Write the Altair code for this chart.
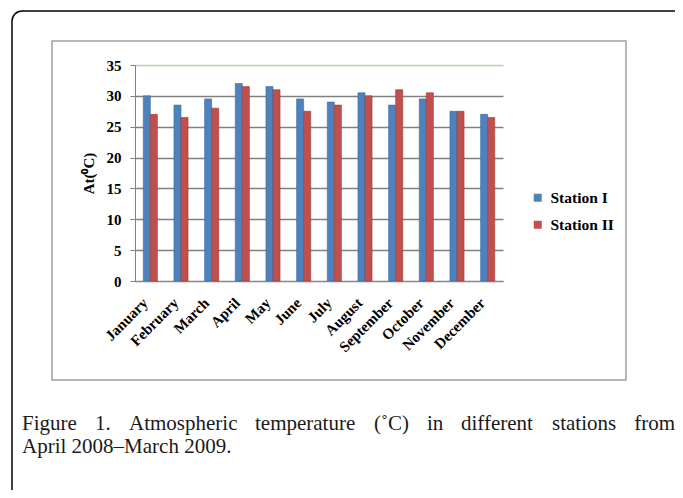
import altair as alt
import pandas as pd

months = ["January", "February", "March", "April", "May", "June", "July",
          "August", "September", "October", "November", "December"]
station_1 = [30, 28.5, 29.5, 32, 31.5, 29.5, 29, 30.5, 28.5, 29.5, 27.5, 27]
station_2 = [27, 26.5, 28, 31.5, 31, 27.5, 28.5, 30, 31, 30.5, 27.5, 26.5]
stations = ["Station I", "Station II"]
colors = ["#4F81BD", "#C0504D"]
y_ticks = [0, 5, 10, 15, 20, 25, 30, 35]
y_title = "At(\u2070C)"
caption_line1 = ["Figure", "1.", "Atmospheric", "temperature", "(\u02daC)", "in",
                 "different", "stations", "from"]
caption_line2 = "April 2008\u2013March 2009."

rows = []
for m, a, b in zip(months, station_1, station_2):
    rows.append({"month": m, "station": stations[0], "temp": a})
    rows.append({"month": m, "station": stations[1], "temp": b})
df = pd.DataFrame(rows)

FONT = "Liberation Serif"
one = pd.DataFrame({"a": [0]})

bars = alt.Chart(df).mark_bar(strokeWidth=0.6).encode(
    x=alt.X("month:N", sort=months,
            scale=alt.Scale(paddingInner=0.54, paddingOuter=0.27),
            axis=alt.Axis(title=None, labelAngle=315, labelAlign="right",
                          labelBaseline="middle", labelPadding=19, labelOffset=-5,
                          ticks=False,
                          labelFont=FONT, labelFontWeight="bold", labelFontSize=15,
                          labelColor="black", domainColor="#8a8a8a", labelOverlap=False)),
    xOffset=alt.XOffset("station:N", sort=stations),
    y=alt.Y("temp:Q", scale=alt.Scale(domain=[0, 35], nice=False),
            axis=alt.Axis(values=y_ticks, title=y_title, titleFont=FONT,
                          titleFontWeight="bold", titleFontSize=15, titleColor="black",
                          titleAngle=270, titleX=-47, titleY=108, titleAlign="center",
                          titleBaseline="middle",
                          labelFont=FONT, labelFontWeight="bold", labelFontSize=15,
                          labelColor="black", labelPadding=9, tickSize=5,
                          tickColor="#808080", domainColor="#808080",
                          gridColor={"condition": {"test": "datum.value === 35", "value": "#b9d3a6"},
                                     "value": "#808080"},
                          gridWidth=1.3)),
    color=alt.Color("station:N", sort=stations,
                    scale=alt.Scale(domain=stations, range=colors),
                    legend=alt.Legend(title=None, orient="none", legendX=395, legendY=125,
                                      symbolType="square", symbolSize=64,
                                      symbolStrokeWidth=0,
                                      labelFont=FONT, labelFontWeight="bold",
                                      labelFontSize=15.5, labelColor="black",
                                      rowPadding=10, labelOffset=5)),
    stroke=alt.Stroke("station:N", sort=stations,
                      scale=alt.Scale(domain=stations, range=["#3a6aa3", "#9e3936"]),
                      legend=None),
)

outer = alt.Chart(one).mark_rect(fillOpacity=0, stroke="black", strokeWidth=1.5,
                                 cornerRadius=10).encode(
    x=alt.value(-123), x2=alt.value(800), y=alt.value(-54), y2=alt.value(700))

inner = alt.Chart(one).mark_rect(fillOpacity=0, stroke="#a0a0a0", strokeWidth=1.5).encode(
    x=alt.value(-83), x2=alt.value(491), y=alt.value(-24), y2=alt.value(315))

# caption word anchors (pixels, relative to plot origin) for a justified first line
word_x = [-113, -40, -6, 120, 239, 292, 326, 417, 540]
layers = [outer, inner, bars]
for i, (w, px) in enumerate(zip(caption_line1, word_x)):
    last = i == len(caption_line1) - 1
    layers.append(alt.Chart(one).mark_text(align="right" if last else "left",
                                           baseline="alphabetic", font=FONT,
                                           fontSize=21, color="#1a1a1a").encode(
        x=alt.value(px), y=alt.value(365), text=alt.value(w)))
layers.append(alt.Chart(one).mark_text(align="left", baseline="alphabetic", font=FONT,
                                       fontSize=21, color="#1a1a1a").encode(
    x=alt.value(-113), y=alt.value(388), text=alt.value(caption_line2)))

chart = alt.layer(*layers).properties(
    width=368, height=216,
    autosize=alt.AutoSizeParams(type="none"),
    padding={"left": 127, "top": 57, "right": 172, "bottom": 209},
    background="white",
).configure_view(stroke=None)

chart.save("out.html", embed_options={"renderer": "svg", "actions": False})
